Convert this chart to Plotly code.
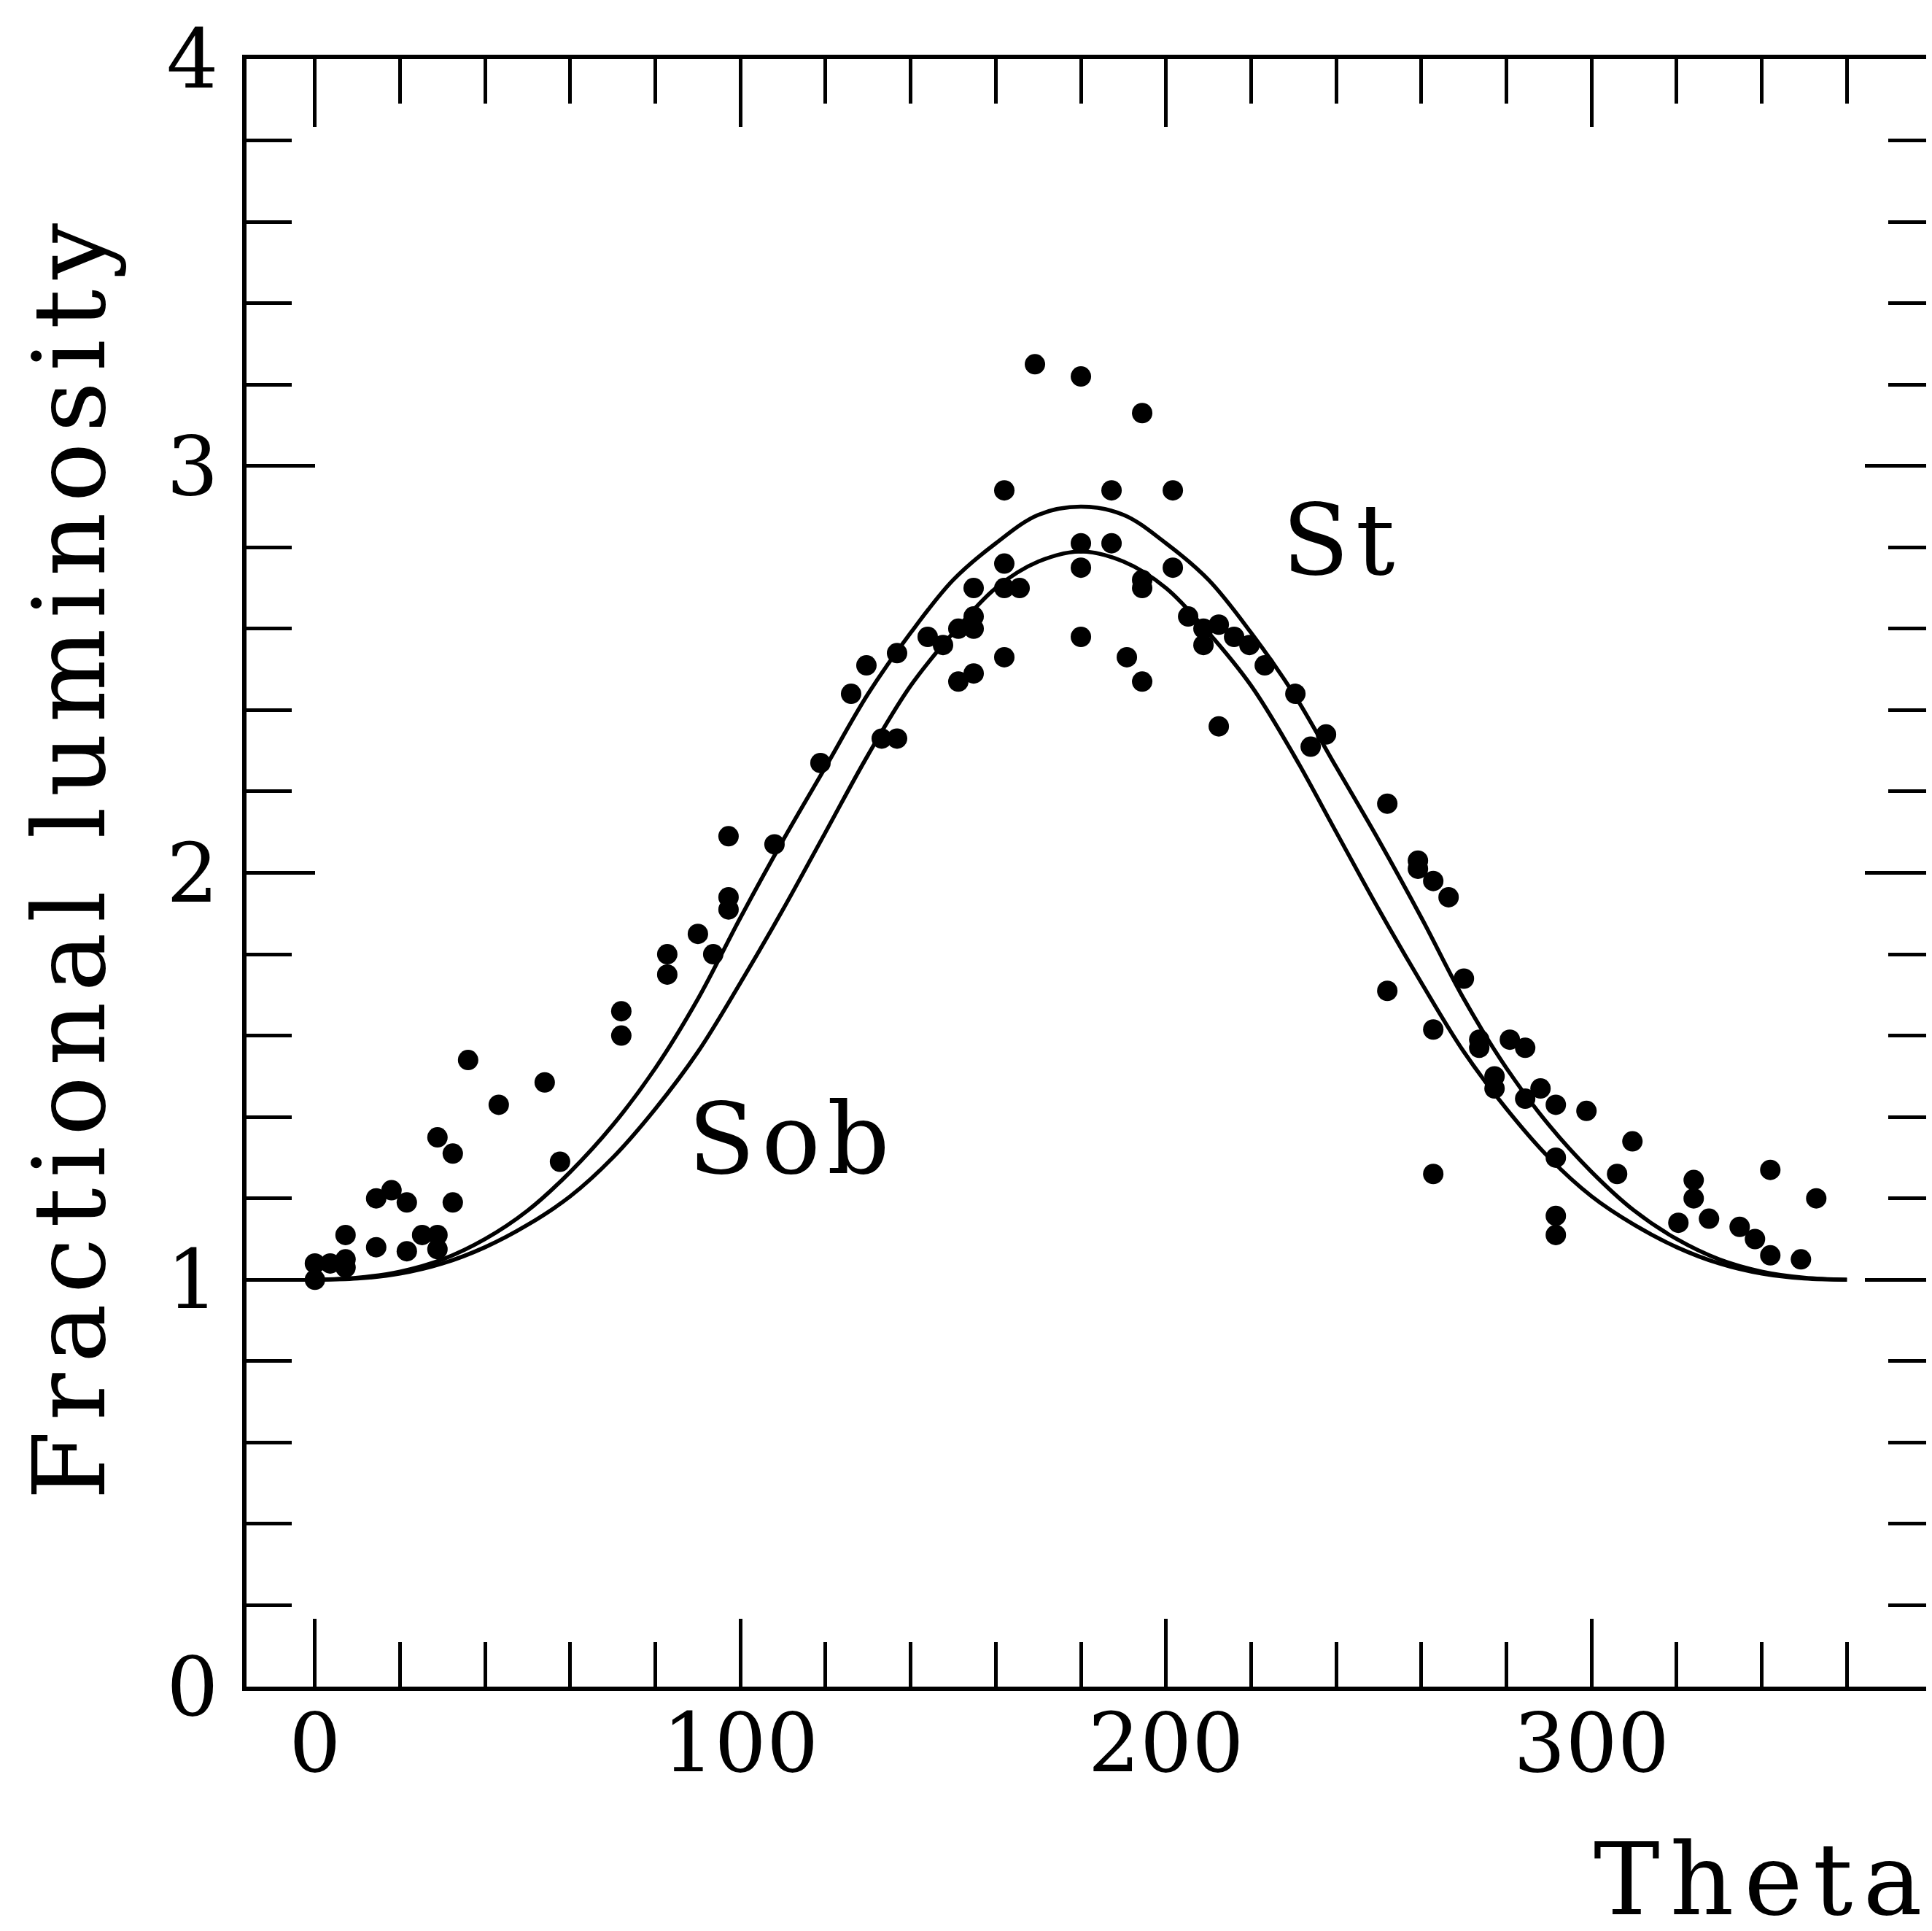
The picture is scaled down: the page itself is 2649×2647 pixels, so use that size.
import plotly.graph_objects as go

# ---- observed points (phase in degrees, fractional luminosity) ----
theta_obs = [0, 0, 3.6, 7.2, 7.2, 7.2, 14.4, 14.4, 18, 21.6, 21.6, 25.2, 28.8, 28.8, 28.8,
             32.4, 32.4, 36, 43.2, 54, 57.6, 72, 72, 82.8, 82.8, 90, 93.6, 97.2, 97.2, 97.2,
             108, 118.8, 126, 129.6, 133.2, 136.8, 136.8, 144, 147.6, 151.2, 151.2,
             154.8, 154.8, 154.8, 154.8, 162, 162, 162, 162, 165.6, 169.2,
             180, 180, 180, 180, 187.2, 187.2, 190.8, 194.4, 194.4, 194.4, 194.4,
             201.6, 201.6, 205.2, 208.8, 208.8, 212.4, 212.4, 216, 219.6, 223.2,
             230.4, 234, 237.6, 252, 252, 259.2, 259.2, 262.8, 262.8, 262.8, 266.4, 270,
             273.6, 273.6, 277.2, 277.2, 280.8, 284.4, 284.4, 288, 291.6, 291.6, 291.6, 291.6,
             298.8, 306, 309.6, 320.4, 324, 324, 327.6, 334.8, 338.4, 342, 342, 349.2, 352.8]
lum_obs = [1.00, 1.04, 1.04, 1.11, 1.05, 1.03, 1.20, 1.08, 1.22, 1.19, 1.07, 1.11, 1.35, 1.11, 1.075,
           1.31, 1.19, 1.54, 1.43, 1.485, 1.29, 1.66, 1.60, 1.80, 1.75, 1.85, 1.80, 2.09, 1.94, 1.91,
           2.07, 2.27, 2.44, 2.51, 2.33, 2.33, 2.54, 2.58, 2.56, 2.60, 2.47,
           2.70, 2.63, 2.60, 2.49, 2.94, 2.76, 2.70, 2.53, 2.70, 3.25,
           3.22, 2.81, 2.75, 2.58, 2.94, 2.81, 2.53, 3.13, 2.72, 2.70, 2.47,
           2.94, 2.75, 2.63, 2.60, 2.56, 2.61, 2.36, 2.58, 2.56, 2.51,
           2.44, 2.31, 2.34, 2.17, 1.71, 2.03, 2.01, 1.98, 1.615, 1.26, 1.94, 1.74,
           1.59, 1.57, 1.50, 1.47, 1.59, 1.57, 1.445, 1.47, 1.43, 1.30, 1.157, 1.11,
           1.415, 1.26, 1.34, 1.14, 1.245, 1.20, 1.15, 1.13, 1.10, 1.27, 1.06, 1.05, 1.20]

# ---- model curves ----
theta_model = [0, 10, 20, 30, 40, 50, 60, 70, 80, 90, 100, 110, 120, 130, 140, 150, 160, 170, 180,
               190, 200, 210, 220, 230, 240, 250, 260, 270, 280, 290, 300, 310, 320, 330, 340, 350, 360]
lum_st = [1.00, 1.005, 1.02, 1.05, 1.10, 1.17, 1.265, 1.38, 1.52, 1.69, 1.89, 2.08, 2.26, 2.44, 2.59,
          2.72, 2.81, 2.88, 2.90,
          2.88, 2.81, 2.72, 2.59, 2.44, 2.26, 2.08, 1.89, 1.69, 1.52, 1.38, 1.265, 1.17, 1.10,
          1.05, 1.02, 1.005, 1.00]
lum_sob = [1.00, 1.003, 1.015, 1.04, 1.08, 1.135, 1.205, 1.30, 1.42, 1.56, 1.73, 1.91, 2.10, 2.29,
           2.46, 2.59, 2.70, 2.765, 2.79,
           2.765, 2.70, 2.59, 2.46, 2.29, 2.10, 1.91, 1.73, 1.56, 1.42, 1.30, 1.205, 1.135, 1.08,
           1.04, 1.015, 1.003, 1.00]

x_ticks = [0, 100, 200, 300]
y_ticks = [0, 1, 2, 3, 4]

FONT = "DejaVu Serif"
INK = "black"

fig = go.Figure()
fig.add_trace(go.Scatter(x=theta_model, y=lum_st, mode="lines", name="St",
                         line=dict(color=INK, width=5.5, shape="spline", smoothing=1.0)))
fig.add_trace(go.Scatter(x=theta_model, y=lum_sob, mode="lines", name="Sob",
                         line=dict(color=INK, width=5.5, shape="spline", smoothing=1.0)))
fig.add_trace(go.Scatter(x=theta_obs, y=lum_obs, mode="markers", name="observed",
                         marker=dict(color=INK, size=28, line=dict(width=0))))

fig.update_layout(
    width=2649, height=2647,
    margin=dict(l=330, r=0, t=73, b=343, pad=0),
    paper_bgcolor="white", plot_bgcolor="white",
    showlegend=False,
    font=dict(family=FONT, color=INK),
)
fig.update_xaxes(range=[-16.07, 380.34], showline=True, linewidth=6, linecolor=INK,
                 mirror="ticks", ticks="inside", ticklen=93, tickwidth=5, tickcolor=INK,
                 tickmode="array", tickvals=x_ticks, ticktext=[str(v) for v in x_ticks],
                 minor=dict(ticks="inside", ticklen=61, tickwidth=5, tickcolor=INK,
                            dtick=20, tick0=0, showgrid=False),
                 showgrid=False, zeroline=False,
                 tickfont=dict(size=112, family=FONT, color=INK), ticklabelstandoff=-24)
fig.update_yaxes(range=[0, 4], showline=True, linewidth=6, linecolor=INK,
                 mirror="ticks", ticks="inside", ticklen=94, tickwidth=5, tickcolor=INK,
                 tickmode="array", tickvals=y_ticks, ticktext=[str(v) for v in y_ticks],
                 minor=dict(ticks="inside", ticklen=62, tickwidth=5, tickcolor=INK,
                            dtick=0.2, tick0=0, showgrid=False),
                 showgrid=False, zeroline=False,
                 tickfont=dict(size=112, family=FONT, color=INK), ticklabelstandoff=10)

fig.add_annotation(text="Fractional luminosity", xref="paper", yref="paper",
                   x=-0.1044, y=0.510, xanchor="center", yanchor="middle", textangle=-90,
                   showarrow=False, font=dict(size=136, family=FONT, color=INK))
fig.add_annotation(text="Theta", xref="paper", yref="paper",
                   x=0.8990, y=-0.1188, xanchor="center", yanchor="middle",
                   showarrow=False, font=dict(size=136, family=FONT, color=INK))
fig.add_annotation(text="St", xref="x", yref="y", x=241.3, y=2.817,
                   xanchor="center", yanchor="middle", showarrow=False,
                   font=dict(size=134, family=FONT, color=INK))
fig.add_annotation(text="Sob", xref="x", yref="y", x=112.2, y=1.345,
                   xanchor="center", yanchor="middle", showarrow=False,
                   font=dict(size=134, family=FONT, color=INK))

post = """
var gd = document.getElementById('{plot_id}');
function spaceText(){
  gd.querySelectorAll('text.annotation-text').forEach(function(t){
    var s = t.textContent;
    if (s === 'Fractional luminosity' || s === 'Theta') { t.style.letterSpacing = '14px'; }
    else { t.style.letterSpacing = '9px'; }
  });
}
spaceText();
gd.on('plotly_afterplot', spaceText);
"""

fig.write_html("out.html", post_script=post)
